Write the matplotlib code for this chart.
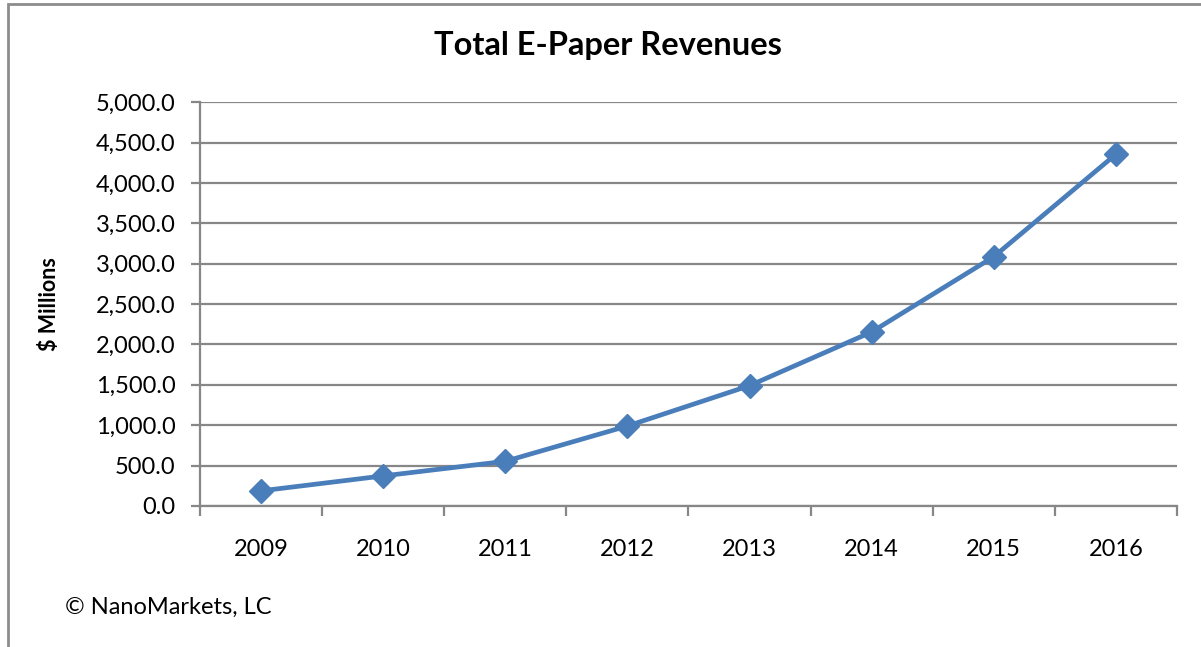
import matplotlib.pyplot as plt
import matplotlib.patches as patches
from matplotlib.ticker import FuncFormatter, FixedLocator
import numpy as np

plt.rcParams['font.family'] = ['Lato', 'DejaVu Sans']

years = ['2009', '2010', '2011', '2012', '2013', '2014', '2015', '2016']
revenue = [187, 372, 553, 990, 1490, 2155, 3087, 4356]

blue = '#4a7ebb'
gray = '#878787'

fig = plt.figure(figsize=(12.01, 6.47), dpi=100)
ax = fig.add_axes([0.1665, 0.218, 0.8135, 0.624])

x = np.arange(len(years))
ax.plot(x, revenue, color=blue, linewidth=3.4, marker='D', markersize=12,
        markeredgecolor=blue, markerfacecolor=blue, zorder=3)

ax.set_xlim(-0.5, len(years) - 0.5)
ax.set_ylim(0, 5000)
ax.set_yticks(np.arange(0, 5001, 500))
ax.yaxis.set_major_formatter(FuncFormatter(lambda v, p: '{:,.1f}'.format(v)))
ax.grid(axis='y', color=gray, linewidth=1.6)
ax.set_axisbelow(True)

# category labels centered, ticks on boundaries
ax.set_xticks(x)
ax.set_xticklabels(years)
ax.xaxis.set_minor_locator(FixedLocator(np.arange(-0.5, len(years), 1.0)))
ax.tick_params(axis='x', which='major', length=0, pad=24, labelsize=17)
ax.tick_params(axis='x', which='minor', length=7, width=1.6, color=gray)
ax.tick_params(axis='y', length=6.5, width=1.6, color=gray, labelsize=17, pad=11)

for s in ['top', 'right']:
    ax.spines[s].set_visible(False)
for s in ['left', 'bottom']:
    ax.spines[s].set_color(gray)
    ax.spines[s].set_linewidth(1.6)

ax.set_ylabel('$ Millions', fontsize=15.5, fontweight='bold')
ax.yaxis.set_label_coords(-0.143, 0.5)
fig.text(0.506, 0.93, 'Total E-Paper Revenues', ha='center', va='center',
         fontsize=23.5, fontweight='bold')
fig.text(0.054, 0.062, '\u00a9 NanoMarkets, LC', ha='left', va='center', fontsize=17)

# chart outer border
fig.patches.append(patches.Rectangle((8 / 1201, -0.05), 1.1, 1.05 - 4 / 647,
                                     transform=fig.transFigure, fill=False,
                                     edgecolor='#8c8c8c', linewidth=2))

fig.savefig('out.png', dpi=100)
